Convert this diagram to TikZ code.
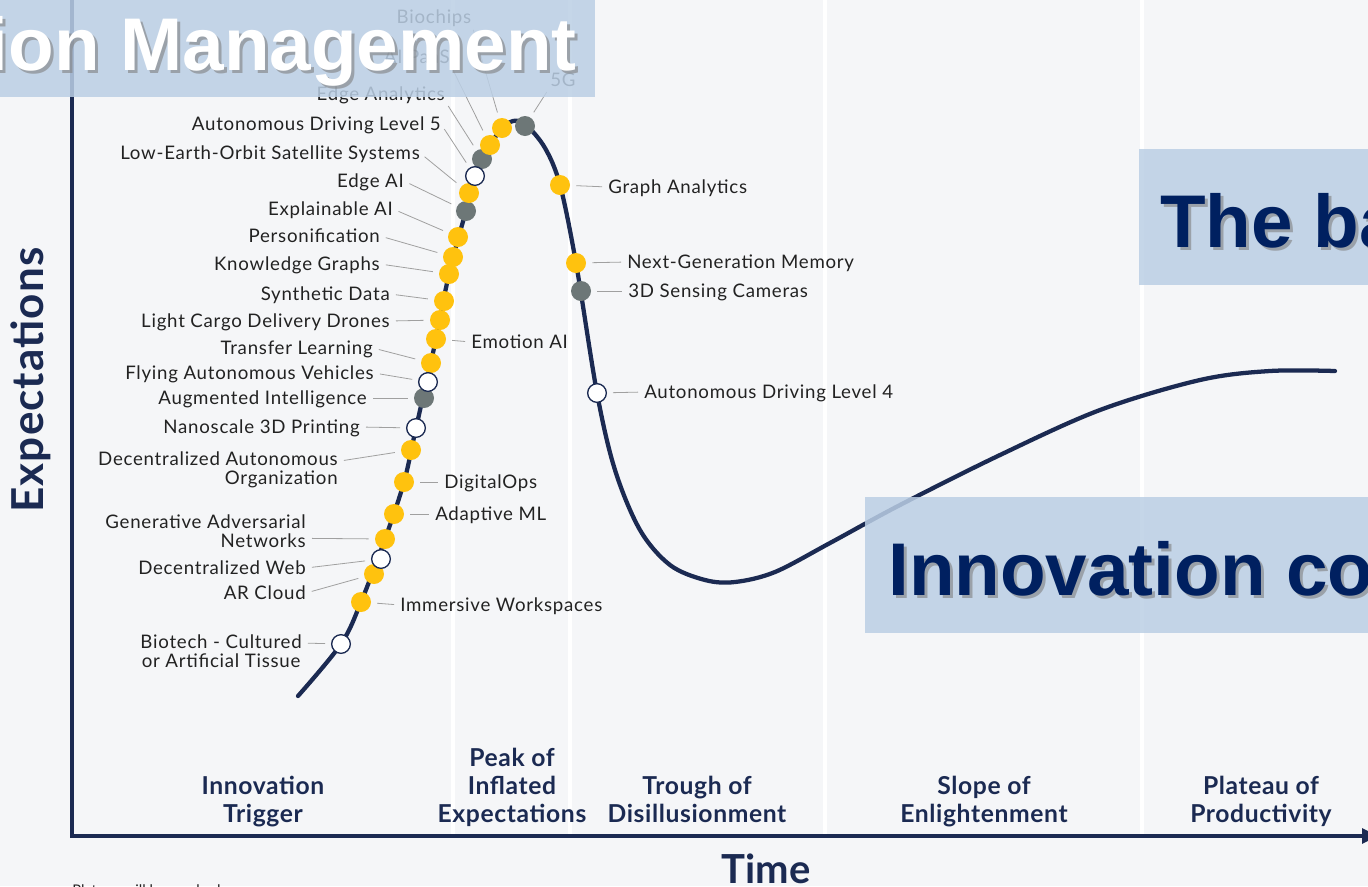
\documentclass[tikz,border=0pt]{standalone}
\usepackage{fontspec}
\setmainfont{Lato}
\newfontfamily\lblface{Lato}[LetterSpace=4]
\newfontfamily\phface{Lato}[LetterSpace=2.5]
\newfontfamily\ovfont{Liberation Sans}
\usetikzlibrary{arrows.meta}

\definecolor{hcnavy}{RGB}{27,42,82}
\definecolor{hcyellow}{RGB}{255,194,14}
\definecolor{hcgrey}{RGB}{109,119,119}
\definecolor{hcbg}{RGB}{245,246,248}
\definecolor{hcline}{RGB}{160,160,160}
\definecolor{hctext}{RGB}{34,34,34}
\definecolor{hcbox}{RGB}{187,207,229}
\definecolor{hcdeep}{RGB}{0,32,96}

\newcommand{\lblfont}{\lblface\fontsize{14}{14.2}\selectfont}
\newcommand{\phfont}{\phface\fontsize{18.5}{21}\selectfont\bfseries}

\tikzset{
  dot/.style={circle, inner sep=0pt, minimum size=15pt},
  ydot/.style={dot, fill=hcyellow},
  gdot/.style={dot, fill=hcgrey},
  wdot/.style={dot, fill=white, draw=hcnavy, line width=1pt, minimum size=14pt},
  lbl/.style={font=\lblfont, text=hctext, inner sep=0pt, text height=10pt, text depth=0pt},
  lbll/.style={lbl, anchor=east},
  lblr/.style={lbl, anchor=west},
  lblm/.style={font=\lblfont, text=hctext, inner sep=0pt, anchor=east},
  leader/.style={draw=hcline, line width=0.6pt, shorten <=4.5pt, shorten >=4.5pt},
  phase/.style={font=\phfont, text=hcnavy, align=center, inner sep=0pt, anchor=north},
  banner/.style={fill=hcbox, opacity=0.85},
  bannertext/.style={font=\ovfont\bfseries\fontsize{56}{60}\selectfont, inner sep=0pt},
}

\begin{document}
\begin{tikzpicture}[x=0.75pt, y=-0.75pt]
    % Page and background
    \useasboundingbox (0,0) rectangle (1368,886);
    \clip (0,0) rectangle (1368,886);
    \fill[hcbg] (0,0) rectangle (1368,886);

    % Phase separators
    \foreach \x in {453,570,825,1142}
        \draw[white, line width=2.5pt] (\x,0) -- (\x,834);

    % Axes
    \draw[hcnavy, line width=3pt, -{Triangle[length=12pt, width=11pt]}]
        (72,0) |- (1378,836);

    % The hype curve
    \draw[hcnavy, line width=3.2pt, line cap=round] plot[smooth, tension=0.55] coordinates {
        (298,696) (341,644) (361,602) (385,539) (404,482) (416,428) (436,339)
        (449,274) (466,211) (482,159) (500,131) (513,121) (526,125) (545,148)
        (560,185) (576,263) (597,393) (615,470) (640,530) (670,565) (705,580)
        (735,582) (775,572) (830,543) (900,505) (1000,455) (1100,410)
        (1200,380) (1270,371) (1335,371)};

    % Technology dots (grey, then yellow, then white on top)
    \foreach \n/\s/\x/\y in {
        eda/gdot/482/159, edgeai/gdot/466/211, aug/gdot/424/398,
        fiveg/gdot/525/126, cam/gdot/581/291,
        bioc/ydot/502/128, paas/ydot/490/145, leo/ydot/469/193,
        xai/ydot/458/237, pers/ydot/453/257, kg/ydot/449/274,
        synth/ydot/444/301, cargo/ydot/440/320, emo/ydot/436/339,
        trans/ydot/431/363, dao/ydot/411/450, dops/ydot/404/482,
        aml/ydot/394/514, gan/ydot/385/539, arc/ydot/374/574,
        imm/ydot/361/602, graph/ydot/560/185, ngm/ydot/576/263,
        adlv/wdot/475/176, fly/wdot/428/382, nano/wdot/416/428,
        dweb/wdot/381/559, tis/wdot/341/644, adlf/wdot/597/393}
        \node[\s] (\n) at (\x,\y) {};

    % Labels on the left of the curve
    \foreach \n/\x/\y/\t in {
        adlv/441/124/Autonomous Driving Level 5,
        leo/420/153/Low-Earth-Orbit Satellite Systems,
        edgeai/404/181/Edge AI,
        xai/393/209/Explainable AI,
        pers/380/236/Personification,
        kg/380/264/Knowledge Graphs,
        synth/390/294/Synthetic Data,
        cargo/390/321/Light Cargo Delivery Drones,
        trans/373/348/Transfer Learning,
        fly/374/373/Flying Autonomous Vehicles,
        aug/367/398/Augmented Intelligence,
        nano/360/427/Nanoscale 3D Printing,
        dweb/306/568/Decentralized Web,
        arc/306/593/AR Cloud}
    {
        \node[lbll] (l\n) at (\x,\y) {\t};
        \draw[leader] (l\n.east) -- (\n);
    }

    % Labels on the right of the curve
    \foreach \n/\x/\y/\t in {
        emo/471/342/Emotion AI,
        dops/444/482/DigitalOps,
        aml/435/514/Adaptive ML,
        imm/400/605/Immersive Workspaces,
        graph/608/187/Graph Analytics,
        ngm/627/262/Next-Generation Memory,
        cam/628/291/3D Sensing Cameras,
        adlf/644/392/Autonomous Driving Level 4}
    {
        \node[lblr] (l\n) at (\x,\y) {\t};
        \draw[leader] (\n) -- (l\n.west);
    }

    % Two-line labels
    \node[lblm, align=right] (ldao) at (338,470) {Decentralized Autonomous\\Organization};
    \draw[leader] ([yshift=6.5pt]ldao.east) -- (dao);
    \node[lblm, align=right] (lgan) at (306,531) {Generative Adversarial\\Networks};
    \draw[leader] ([yshift=-5.5pt]lgan.east) -- (gan);
    \node[lblm, align=center] (ltis) at (302,651) {Biotech - Cultured\\or Artificial Tissue};
    \draw[leader] ([yshift=6pt]ltis.east) -- (tis);

    % Labels near the peak
    \node[lbl] (lbioc) at (434,17) {Biochips};
    \node[lbll] (lpaas) at (450,57) {AI PaaS};
    \node[lbll] (leda) at (445,94) {Edge Analytics};
    \node[lblr] (lfiveg) at (550,80) {5G};
    \draw[leader] (lbioc.south east) -- (bioc);
    \draw[leader] (lpaas.south east) -- (paas);
    \draw[leader] (leda.south east) -- (eda);
    \draw[leader] (lfiveg.south west) -- (fiveg);

    % Phase names
    \foreach \x/\y/\t in {
        263/776/{Innovation\\Trigger},
        512/748/{Peak of\\Inflated\\Expectations},
        697/776/{Trough of\\Disillusionment},
        984/776/{Slope of\\Enlightenment},
        1261/776/{Plateau of\\Productivity}}
        \node[phase] at (\x,\y) {\t};

    % Axis titles
    \node[font=\phface\bfseries\fontsize{33}{33}\selectfont, text=hcnavy, rotate=90] (ylab) at (31,380) {Expectations};
    \node[font=\bfseries\fontsize{30}{30}\selectfont, text=hcnavy] (xlab) at (766,869) {Time};
    \node[font=\fontsize{11}{11}\selectfont, text=hctext, anchor=base west, inner sep=0pt] (note) at (72,895) {Plateau will be reached:};

    % Banners on top
    \fill[banner] (0,0) rectangle (595,97);
    \node[bannertext, text=gray, opacity=0.6, anchor=base east] (ttls) at (580,73) {ion Management};
    \node[bannertext, text=white, anchor=base east] (ttl) at (577,70) {ion Management};

    \fill[banner] (1139,149) rectangle (1368,285);
    \node[bannertext, text=gray, opacity=0.6, anchor=base west] (bas) at (1163,250) {The ba};
    \node[bannertext, text=hcdeep, anchor=base west] (ba) at (1160,247) {The ba};

    \fill[banner] (865,497) rectangle (1368,633);
    \node[bannertext, text=gray, opacity=0.6, anchor=base west] (cos) at (891,598) {Innovation co};
    \node[bannertext, text=hcdeep, anchor=base west] (co) at (888,595) {Innovation co};
\end{tikzpicture}
\end{document}
